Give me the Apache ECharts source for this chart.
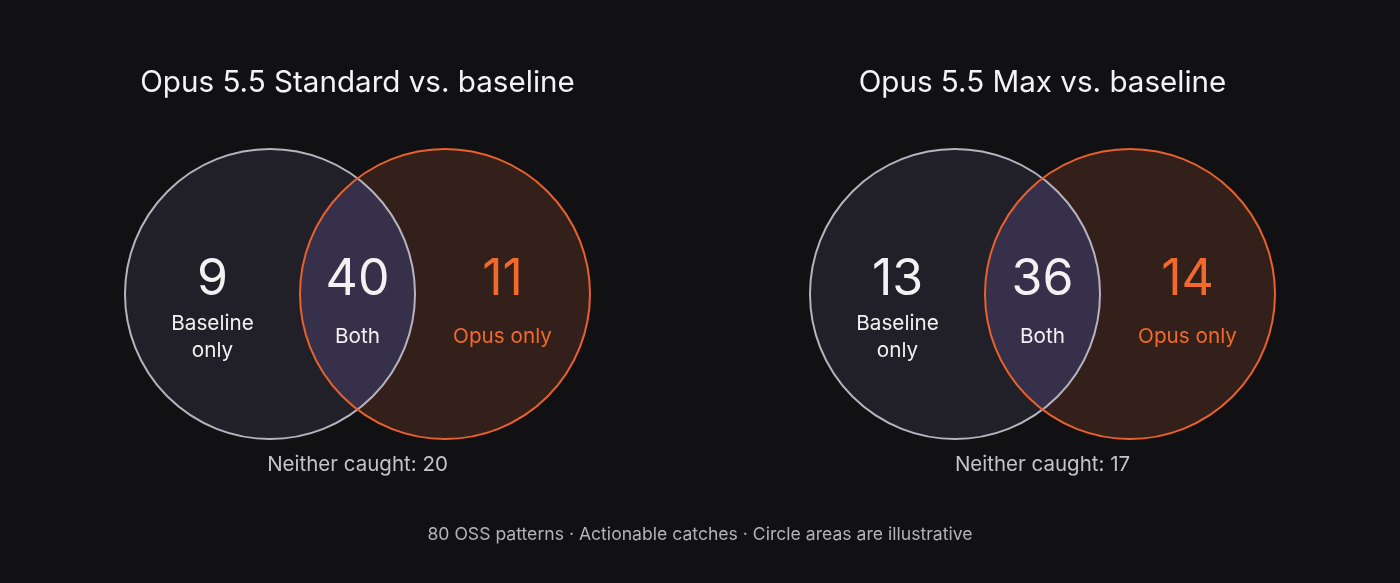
<!DOCTYPE html>
<html>
<head>
<meta charset="utf-8">
<script src="https://cdn.jsdelivr.net/npm/echarts@6/dist/echarts.min.js"></script>
<style>
  html, body { margin: 0; padding: 0; background: #111113; }
  #chart { width: 1400px; height: 583px; }
</style>
</head>
<body>
<div id="chart"></div>
<script>
// data
const panelTitles = ["Opus 5.5 Standard vs. baseline", "Opus 5.5 Max vs. baseline"];
const baselineOnly = [9, 13];
const bothCaught = [40, 36];
const opusOnly = [11, 14];
const neitherCaught = [20, 17];
const regionLabels = ["Baseline\nonly", "Both", "Opus only"];
const footnote = "80 OSS patterns · Actionable catches · Circle areas are illustrative";

const chart = echarts.init(document.getElementById("chart"));

// layout in circle-radius units
const offset = 0.6034; // half distance between circle centers
const panelCenters = [357.5, 1042.5];
const font = "Inter, 'Noto Sans', sans-serif";

const colors = {
  bg: "#111113",
  baseFill: "#211f27",
  baseStroke: "#b7b3be",
  opusFill: "#34201a",
  opusStroke: "#e8612c",
  lensFill: "#36304a",
  text: "#f2f2f2",
  opusText: "#f26a2b",
  muted: "#c4c4c4",
};

const renderRegion = (params, api) => {
  const region = api.value(0);
  const count = api.value(1);
  const unit = api.size([1, 1])[0];
  const c = api.coord([0, 0]);
  const lx = c[0] - offset * unit;
  const rx = c[0] + offset * unit;
  const children = [];

  if (region === 0) {
    children.push({ type: "circle", shape: { cx: lx, cy: c[1], r: unit }, style: { fill: colors.baseFill }, z2: 0 });
    children.push({ type: "circle", shape: { cx: lx, cy: c[1], r: unit }, style: { fill: "none", stroke: colors.baseStroke, lineWidth: 2 }, z2: 5 });
  } else if (region === 2) {
    children.push({ type: "circle", shape: { cx: rx, cy: c[1], r: unit }, style: { fill: colors.opusFill }, z2: 0 });
    children.push({ type: "circle", shape: { cx: rx, cy: c[1], r: unit }, style: { fill: "none", stroke: colors.opusStroke, lineWidth: 2 }, z2: 6 });
  } else {
    const h = Math.sqrt(1 - offset * offset) * unit;
    const path = `M ${c[0]} ${c[1] - h} A ${unit} ${unit} 0 0 1 ${c[0]} ${c[1] + h} A ${unit} ${unit} 0 0 1 ${c[0]} ${c[1] - h} Z`;
    children.push({ type: "path", shape: { pathData: path }, style: { fill: colors.lensFill }, z2: 1 });
  }

  // label positions: left, middle, right of the panel
  const tx = c[0] + (region - 1) * 1.0 * unit;
  const color = region === 2 ? colors.opusText : colors.text;
  children.push({
    type: "text", z2: 10,
    style: { text: String(count), x: tx, y: c[1] - 0.097 * unit, fill: color, font: `400 50px ${font}`, align: "center", verticalAlign: "middle" },
  });
  children.push({
    type: "text", z2: 10,
    style: { text: regionLabels[region], x: tx, y: c[1] + 0.295 * unit, fill: color, font: `400 20.7px ${font}`, lineHeight: 27, align: "center", verticalAlign: "middle" },
  });
  return { type: "group", children };
};

const grids = panelCenters.map((cx) => ({ left: cx - 232.5, width: 465, top: 149, height: 290, show: false }));
const axisOff = { show: false, type: "value" };

const titles = [];
panelTitles.forEach((t, i) => {
  titles.push({
    text: t, left: panelCenters[i], top: 65, textAlign: "center", padding: 0,
    textStyle: { color: "#f4f4f4", fontSize: 29.6, fontWeight: 400, fontFamily: font, lineHeight: 36 },
  });
  titles.push({
    text: "Neither caught: " + neitherCaught[i], left: panelCenters[i], top: 453, textAlign: "center", padding: 0,
    textStyle: { color: colors.muted, fontSize: 20.5, fontWeight: 400, fontFamily: font, lineHeight: 24 },
  });
});
titles.push({
  text: footnote, left: 700, top: 524, textAlign: "center", padding: 0,
  textStyle: { color: "#b4b4b4", fontSize: 17.6, fontWeight: 400, fontFamily: font, lineHeight: 22 },
});

chart.setOption({
  backgroundColor: colors.bg,
  animation: false,
  title: titles,
  grid: grids,
  xAxis: grids.map((g, i) => ({ ...axisOff, gridIndex: i, min: -1.6034, max: 1.6034 })),
  yAxis: grids.map((g, i) => ({ ...axisOff, gridIndex: i, min: -1, max: 1 })),
  series: panelTitles.map((t, i) => ({
    type: "custom",
    name: t,
    xAxisIndex: i,
    yAxisIndex: i,
    clip: false,
    renderItem: renderRegion,
    data: [
      [0, baselineOnly[i]],
      [1, bothCaught[i]],
      [2, opusOnly[i]],
    ],
  })),
});

window.addEventListener("resize", chart.resize);
</script>
</body>
</html>
